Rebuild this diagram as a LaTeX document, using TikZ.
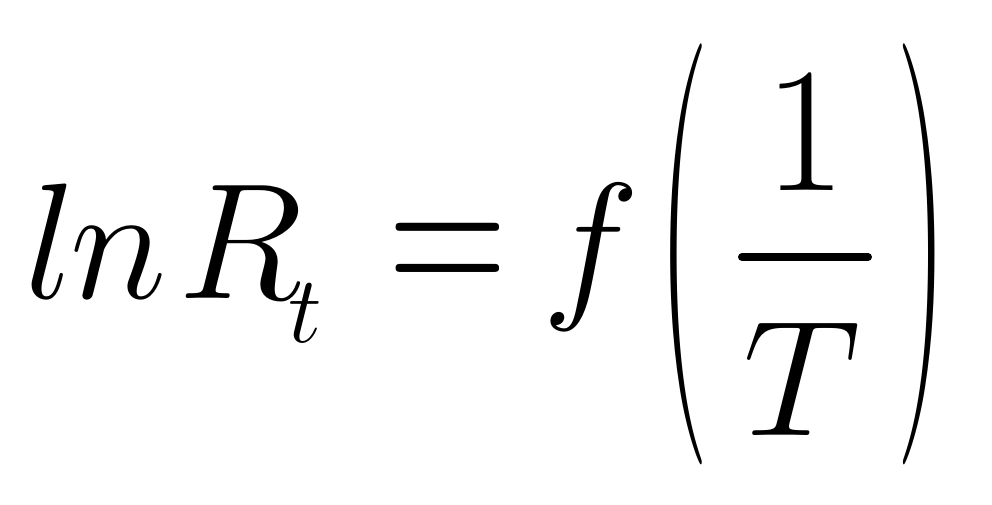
\documentclass[tikz,border=0pt]{standalone}
\usepackage{fix-cm}
\begin{document}
\begin{tikzpicture}[x=1pt,y=-1pt,every node/.style={inner sep=0pt,outer sep=0pt}]
\tikzset{
  big/.style={font=\fontsize{165}{170}\selectfont},
  subsz/.style={font=\fontsize{95}{100}\selectfont},
  parsz/.style={font=\fontsize{170}{170}\selectfont,xscale=0.86,yscale=2.48},
}
\useasboundingbox[fill=white] (0,0) rectangle (992,504);
\node[big,anchor=base west] (l) at (24,298) {$l$};
\node[big,anchor=base west] (n) at (70,298) {$n$};
\node[big,anchor=base west] (R) at (178,298) {$R$};
\node[subsz,anchor=base west] (t) at (288,342) {$t$};
\node[big,anchor=base,yscale=1.4] (eq) at (448,305) {$=$};
\node[big,anchor=base west] (f) at (542,298) {$f$};
\node[parsz] (lp) at (683,254.5) {(};
\node[parsz] (rp) at (922,254.5) {)};
\node[big,anchor=base,scale=1.08] (one) at (805,190) {$1$};
\coordinate (barL) at (742,257);
\coordinate (barR) at (868,257);
\draw[line width=8pt,line cap=round] (barL) -- (barR);
\node[big,anchor=base] (T) at (802,435) {$T$};
\end{tikzpicture}
\end{document}
